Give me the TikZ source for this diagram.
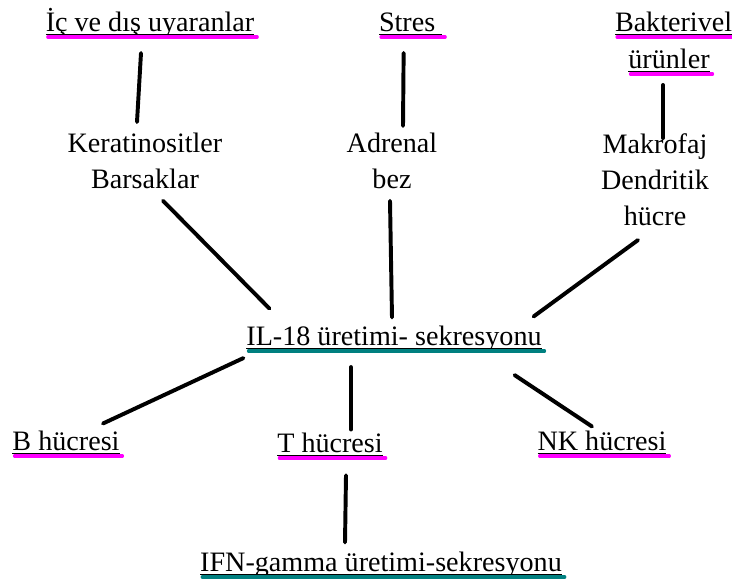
\documentclass[tikz,border=0pt]{standalone}
\usepackage{fontspec}
\setmainfont{Liberation Serif}
\usepackage{xcolor}
\usepackage{tikz}
\usetikzlibrary{calc}
\definecolor{pembe}{HTML}{FF00FF}
\definecolor{camgobegi}{HTML}{008080}
\tikzstyle{lbl}=[inner sep=0pt, outer sep=0pt, font=\fontsize{20}{25.6}\selectfont]
\tikzstyle{link}=[line width=2.8pt, line cap=round]
\tikzstyle{ualt}=[line width=0.7pt]
\tikzstyle{pembeciz}=[draw=pembe, line width=2.2pt, line cap=round]
\tikzstyle{yesilciz}=[draw=camgobegi, line width=2.2pt, line cap=round]
% black underline plus coloured bar under a one-line node
\newcommand{\altciz}[2]{%
\draw[ualt] ($(#1.base west)+(0,3)$) -- ($(#1.base east)+(0,3)$);
\draw[#2] ($(#1.base west)+(2,6)$) -- ($(#1.base east)+(3,6)$);}

\begin{document}
\begin{tikzpicture}[x=0.025cm, y=-0.025cm]
\useasboundingbox (0,0) rectangle (732,581);

\node[lbl, anchor=base] (uyaran) at (150,31) {İç ve dış uyaranlar};
\node[lbl, anchor=base west] (stres) at (379,31) {Stres\kern0.25em};
\node[lbl, anchor=base west] (bakteri) at (615,31) {Bakterivel};
\node[lbl, anchor=base] (urun) at (669,68) {ürünler};

\node[lbl, align=center, anchor=north] (kerat) at (145,133) {Keratinositler\\Barsaklar};
\node[lbl, align=center, anchor=north] (adrenal) at (392,133) {Adrenal\\bez};
\node[lbl, align=center, anchor=north] (makro) at (655,134) {Makrofaj\\Dendritik\\hücre};

\node[lbl, anchor=base] (il) at (394,345) {IL-18 üretimi- sekresyonu};

\node[lbl, anchor=base] (bh) at (66,450) {B hücresi};
\node[lbl, anchor=base] (th) at (330,452) {T hücresi};
\node[lbl, anchor=base] (nk) at (602,450) {NK hücresi};

\node[lbl, anchor=base] (ifn) at (381,571) {IFN-gamma üretimi-sekresyonu};

\altciz{uyaran}{pembeciz}
\altciz{stres}{pembeciz}
\altciz{bakteri}{pembeciz}
\altciz{urun}{pembeciz}
\altciz{il}{yesilciz}
\altciz{bh}{pembeciz}
\altciz{th}{pembeciz}
\altciz{nk}{pembeciz}
\altciz{ifn}{yesilciz}

\draw[link] ($(uyaran.base)+(-9,22)$) -- ($(kerat.north)+(-8,-11)$);
\draw[link] ($(stres.base)+(-7,22)$) -- ($(adrenal.north)+(11,-7)$);
\draw[link] ($(urun.base)+(-6,17)$) -- ($(makro.north)+(8,4)$);

\draw[link] ($(kerat.south)+(18,12)$) -- ($(il.north west)+(23,-17)$);
\draw[link] ($(adrenal.south)+(-2,12)$) -- ($(il.north)+(-2,-8)$);
\draw[link] ($(makro.south)+(-17,14)$) -- ($(il.north east)+(-8,-9)$);

\draw[link] ($(il.south west)+(-3,7)$) -- ($(bh.north)+(37,-7)$);
\draw[link] ($(il.south)+(-43,16)$) -- ($(th.north)+(21,-3)$);
\draw[link] ($(il.south east)+(-27,24)$) -- ($(nk.north)+(-10,-4)$);

\draw[link] ($(th.south)+(16,23)$) -- ($(ifn.north)+(-36,-9)$);

\end{tikzpicture}
\end{document}
